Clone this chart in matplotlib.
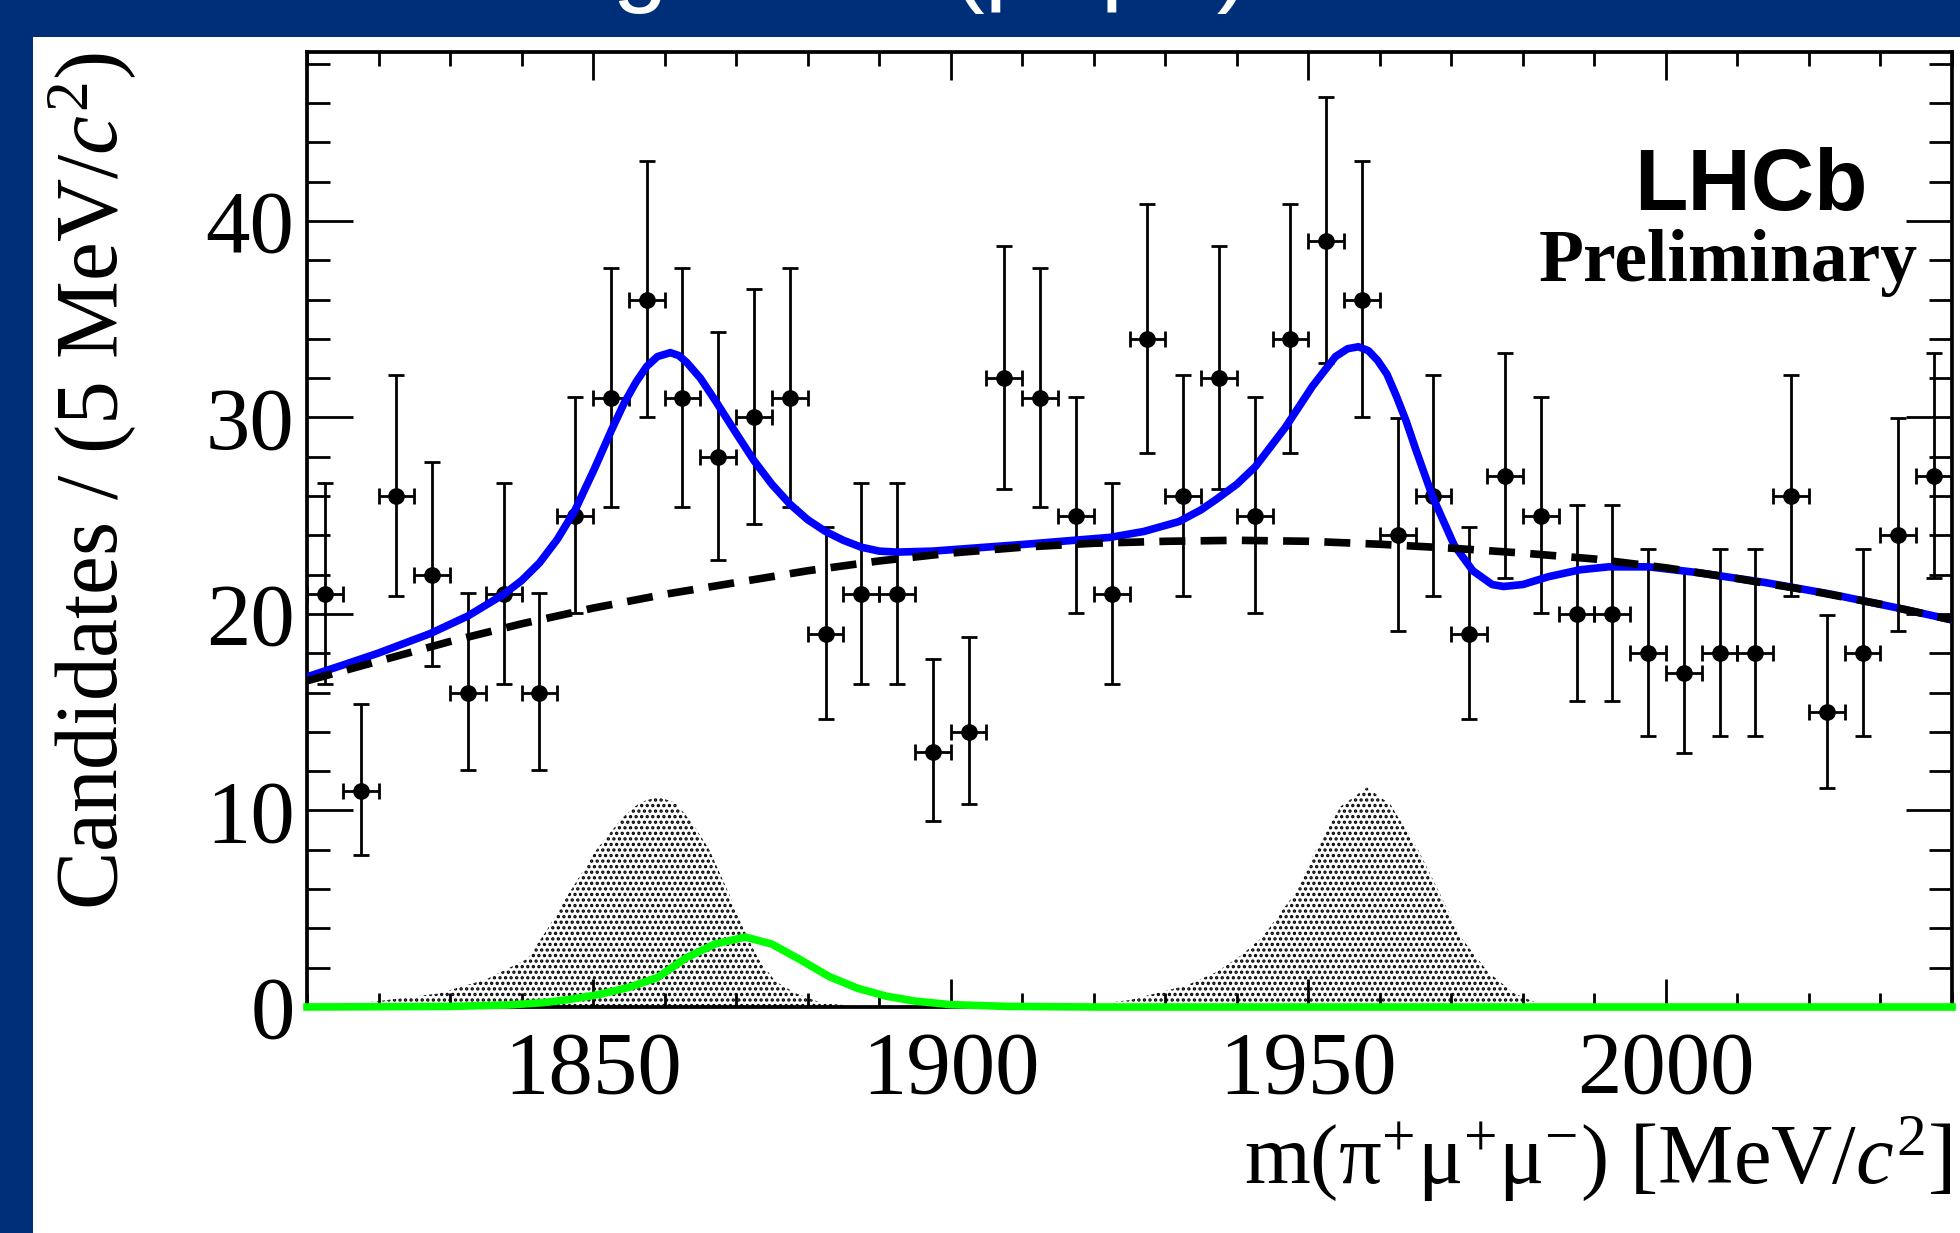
import matplotlib
matplotlib.use("Agg")
import matplotlib.pyplot as plt
from matplotlib.patches import Rectangle
from matplotlib.ticker import MultipleLocator

plt.rcParams['font.family'] = 'Liberation Serif'
plt.rcParams['mathtext.fontset'] = 'custom'
plt.rcParams['mathtext.rm'] = 'Liberation Serif'
plt.rcParams['mathtext.it'] = 'Liberation Serif:italic'
plt.rcParams['mathtext.bf'] = 'Liberation Serif:bold'
plt.rcParams['hatch.linewidth'] = 1.6

# data: 5 MeV bins
bin_centers = [1812.5, 1817.5, 1822.5, 1827.5, 1832.5, 1837.5, 1842.5, 1847.5, 1852.5, 1857.5,
               1862.5, 1867.5, 1872.5, 1877.5, 1882.5, 1887.5, 1892.5, 1897.5, 1902.5, 1907.5,
               1912.5, 1917.5, 1922.5, 1927.5, 1932.5, 1937.5, 1942.5, 1947.5, 1952.5, 1957.5,
               1962.5, 1967.5, 1972.5, 1977.5, 1982.5, 1987.5, 1992.5, 1997.5, 2002.5, 2007.5,
               2012.5, 2017.5, 2022.5, 2027.5, 2032.5, 2037.5]
counts = [21, 11, 26, 22, 16, 21, 16, 25, 31, 36,
          31, 28, 30, 31, 19, 21, 21, 13, 14, 32,
          31, 25, 21, 34, 26, 32, 25, 34, 39, 36,
          24, 26, 19, 27, 25, 20, 20, 18, 17, 18,
          18, 26, 15, 18, 24, 27]

# asymmetric (Poisson) error bar lengths, read per count value
err_table = {11: (3.26, 4.41), 13: (3.55, 4.69), 14: (3.69, 4.83), 15: (3.83, 4.95),
             16: (3.95, 5.08), 17: (4.08, 5.20), 18: (4.20, 5.32), 19: (4.32, 5.43),
             20: (4.43, 5.54), 21: (4.54, 5.65), 22: (4.65, 5.76), 24: (4.86, 5.96),
             25: (4.96, 6.06), 26: (5.06, 6.16), 27: (5.16, 6.26), 28: (5.26, 6.35),
             30: (5.44, 6.54), 31: (5.53, 6.63), 32: (5.62, 6.71), 34: (5.80, 6.89),
             36: (5.97, 7.05), 39: (6.22, 7.29)}

# total fit (blue)
total_x = [1810, 1815, 1819.9, 1827.2, 1832.5, 1837.5, 1840, 1842.5, 1845, 1847.5,
           1850.2, 1852.5, 1854.3, 1856.0, 1857.5, 1859.0, 1860.8, 1862.0, 1863.1, 1865.0,
           1867.2, 1870.0, 1872.5, 1875.0, 1877.5, 1880.0, 1882.5, 1885.0, 1887.5, 1890.0,
           1892.5, 1897.5, 1901.2, 1910.5, 1922.3, 1927.0, 1931.9, 1935.0, 1937.2, 1940.0,
           1942.6, 1946.8, 1950.6, 1953.8, 1955.5, 1957.0, 1958.4, 1959.7, 1961.0, 1962.3,
           1963.7, 1965.0, 1967.4, 1970.4, 1973.0, 1975.7, 1977.3, 1980.0, 1983.6, 1988.0,
           1992.0, 1997.6, 2004.6, 2013.9, 2023.2, 2032.5, 2040]
total_y = [16.8, 17.4, 18.0, 19.0, 19.9, 21.0, 21.7, 22.6, 23.8, 25.3,
           27.4, 29.3, 30.7, 31.8, 32.6, 33.1, 33.3, 33.15, 32.8, 32.0,
           30.8, 29.2, 27.8, 26.6, 25.6, 24.8, 24.2, 23.75, 23.4, 23.2,
           23.15, 23.2, 23.3, 23.55, 23.9, 24.2, 24.7, 25.3, 25.85, 26.6,
           27.5, 29.5, 31.6, 33.1, 33.5, 33.6, 33.4, 32.9, 32.2, 31.1,
           29.8, 28.4, 25.95, 23.5, 22.2, 21.5, 21.4, 21.5, 21.9, 22.25,
           22.4, 22.4, 22.1, 21.6, 21.0, 20.3, 19.7]

# combinatorial background (black dashed)
bkg_x = [1810, 1820, 1830, 1840, 1850, 1860, 1870, 1880, 1890, 1900, 1910, 1920,
         1930, 1940, 1950, 1960, 1970, 1980, 1990, 2000, 2010, 2020, 2030, 2040]
bkg_y = [16.6, 17.6, 18.6, 19.5, 20.3, 21.0, 21.6, 22.2, 22.7, 23.1, 23.4, 23.6,
         23.7, 23.75, 23.7, 23.55, 23.35, 23.1, 22.8, 22.35, 21.8, 21.2, 20.5, 19.7]

# signal peaks (dotted fill)
peak1_x = [1812, 1820, 1828.4, 1835, 1840.8, 1843.5, 1846.6, 1850.4, 1854, 1856.5, 1859,
           1861.5, 1864, 1866.3, 1869.0, 1871, 1873.1, 1875.5, 1878.4, 1882, 1888]
peak1_y = [0.05, 0.3, 0.69, 1.4, 2.45, 3.9, 5.77, 7.97, 9.6, 10.4, 10.7,
           10.4, 9.3, 7.97, 5.77, 4.0, 2.45, 1.3, 0.69, 0.2, 0.0]
peak2_x = [1918, 1925, 1928.6, 1933, 1937.2, 1940.5, 1943.6, 1948.1, 1951.0, 1954.5, 1958.2,
           1961.5, 1965.4, 1968.4, 1971.3, 1975.1, 1978.8, 1982, 1986]
peak2_y = [0.05, 0.35, 0.69, 1.1, 1.79, 2.6, 3.56, 5.77, 7.97, 10.2, 11.17,
           10.3, 7.97, 5.77, 3.56, 1.79, 0.69, 0.2, 0.02]

# peaking background (green)
green_x = [1810, 1830, 1838, 1843, 1847, 1851, 1855, 1859, 1863, 1867, 1871.3, 1875,
           1879, 1883, 1887, 1891, 1895, 1900, 1908, 1920, 2040]
green_y = [0.0, 0.03, 0.1, 0.22, 0.4, 0.65, 1.0, 1.5, 2.5, 3.2, 3.56, 3.2,
           2.4, 1.55, 0.95, 0.55, 0.3, 0.12, 0.03, 0.0, 0.0]

err_lo = [err_table[n][0] for n in counts]
err_hi = [err_table[n][1] for n in counts]

fig = plt.figure(figsize=(19.6, 12.33), dpi=100)
fig.patch.set_facecolor('#002f7a')
fig.add_artist(Rectangle((33 / 1960, 0), 1, 1 - 37 / 1233, transform=fig.transFigure,
                         facecolor='white', edgecolor='none', zorder=0))
# slide title, only its lowest part falls inside the picture
fig.text(0.199, 1 - 14 / 1233, 'Background (μ+μ−)', color='white', fontsize=72,
         family='Liberation Sans', va='bottom', ha='left')

ax = fig.add_axes([307 / 1960, 1 - 1007 / 1233, (1952 - 307) / 1960, (1007 - 52) / 1233])
ax.set_facecolor('white')

ax.fill_between(peak1_x, 0, peak1_y, facecolor='none', edgecolor='black', hatch='...',
                linewidth=0, zorder=1)
ax.fill_between(peak2_x, 0, peak2_y, facecolor='none', edgecolor='black', hatch='...',
                linewidth=0, zorder=1)

ax.errorbar(bin_centers, counts, xerr=2.5, yerr=[err_lo, err_hi], fmt='o', color='black',
            markersize=11, elinewidth=2, capsize=5.5, capthick=2, zorder=2)

ax.plot(green_x, green_y, color='#00ff00', lw=5.5, zorder=3, clip_on=False)
ax.plot(total_x, total_y, color='#0000ff', lw=5.5, zorder=4)
ax.plot(bkg_x, bkg_y, color='black', lw=5.5, dashes=(3.4, 2.0), dash_capstyle='butt', zorder=5)

ax.set_xlim(1810, 2040)
ax.set_ylim(0, 48.6)
ax.xaxis.set_major_locator(MultipleLocator(50))
ax.xaxis.set_minor_locator(MultipleLocator(10))
ax.yaxis.set_major_locator(MultipleLocator(10))
ax.yaxis.set_minor_locator(MultipleLocator(2))
ax.tick_params(which='both', direction='in', top=True, right=True, width=2,
               labelsize=64)
ax.tick_params(axis='x', which='major', length=20, pad=17)
ax.tick_params(axis='x', which='minor', length=10)
ax.tick_params(axis='y', which='major', length=33, pad=9)
ax.tick_params(axis='y', which='minor', length=16.5)
for s in ax.spines.values():
    s.set_linewidth(2.7)

ax.set_xlabel(r'm(π$^{+}$μ$^{+}$μ$^{-}$) [MeV/$c^{2}$]', loc='right', fontsize=61)
ax.xaxis.set_label_coords(1.0, -0.113)
ax.set_ylabel(r'Candidates / (5 MeV/$c^{2}$)', loc='top', fontsize=63)
ax.yaxis.set_label_coords(-0.1025, 1.0)

ax.text(0.878, 0.835, 'LHCb', transform=ax.transAxes, ha='center', va='baseline',
        fontsize=63, fontweight='bold', family='Liberation Sans')
ax.text(0.864, 0.760, 'Preliminary', transform=ax.transAxes, ha='center', va='baseline',
        fontsize=53, fontweight='bold')

fig.savefig('out.png', dpi=100, facecolor=fig.get_facecolor())
